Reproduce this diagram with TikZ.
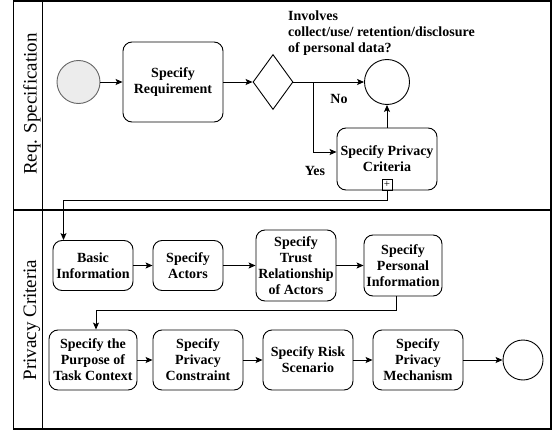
\documentclass[tikz,border=0pt]{standalone}
\usepackage{fontspec}
\setmainfont{Liberation Serif}
\usetikzlibrary{shapes.geometric,arrows.meta,calc}
\newcommand{\tskfont}{\fontsize{14}{16}\selectfont\bfseries}
\newcommand{\lnfont}{\fontsize{19}{22}\selectfont}
\begin{document}
\begin{tikzpicture}[x=1pt,y=-1pt,
  taskbox/.style={draw, rounded corners=9pt, align=center, font=\tskfont, inner sep=1pt, line width=0.9pt},
  flow/.style={-{Stealth[length=7pt,width=6pt,inset=1.5pt]}, line width=0.9pt},
  evt/.style={draw, circle, inner sep=0pt, line width=0.9pt},
  lanebox/.style={draw, line width=1.1pt},
  lanelabel/.style={rotate=90, font=\lnfont, inner sep=0pt}
]
\useasboundingbox (0,0) rectangle (555,431);
% pool frame
\draw[lanebox] (13.5,1) rectangle (551,429);
\draw[lanebox] (13.5,210) -- (551,210);
\draw[lanebox] (42.5,1) -- (42.5,429);
\node[lanelabel] (l1) at (32,104) {Req. Specification};
\node[lanelabel] (l2) at (32,320) {Privacy Criteria};

% top lane
\node[evt, fill=gray!15, draw=black!60, minimum size=43pt] (start) at (78.5,82) {};
\node[taskbox, minimum width=100pt, minimum height=80pt] (req) at (173,82) {Specify\\Requirement};
\node[draw, diamond, inner sep=0pt, minimum width=40pt, minimum height=55pt, line width=0.9pt] (gw) at (273,82) {};
\node[evt, minimum size=45pt] (endA) at (387,82) {};
\node[taskbox, minimum width=100pt, minimum height=62pt] (spc) at (387,159) {Specify Privacy\\Criteria};
\node[draw, inner sep=0pt, minimum width=10pt, minimum height=11pt, line width=0.8pt, font=\fontsize{11}{11}\selectfont] (plus) at (387,184.5) {+};
\node[anchor=north west, inner sep=0pt, align=left, font=\tskfont] (q) at (288,10.5) {Involves\\collect/use/ retention/disclosure\\of personal data?};
\node[font=\tskfont] (no) at (339,99) {No};
\node[font=\tskfont] (yes) at (315,171) {Yes};

\draw[flow] (start) -- (req);
\draw[flow] (req) -- (gw);
\draw[flow] (gw) -- (endA);
\coordinate (br) at (313,82);
\draw[flow] (br) |- ([yshift=7pt]spc.west);
\draw[flow] (spc) -- (endA);

% bottom lane
\node[taskbox, minimum width=80pt, minimum height=50pt] (basic) at (93,265.5) {Basic\\Information};
\node[taskbox, minimum width=70pt, minimum height=50pt] (actors) at (188,265.5) {Specify\\Actors};
\node[taskbox, minimum width=80pt, minimum height=71pt] (trust) at (296,265.5) {Specify\\Trust\\Relationship\\of Actors};
\node[taskbox, minimum width=78pt, minimum height=61pt] (pers) at (403,265.5) {Specify\\Personal\\Information};

\node[taskbox, minimum width=88pt, minimum height=60pt] (purp) at (93,360) {Specify the\\Purpose of\\Task Context};
\node[taskbox, minimum width=90pt, minimum height=60pt] (cons) at (198,360) {Specify\\Privacy\\Constraint};
\node[taskbox, minimum width=90pt, minimum height=60pt] (risk) at (308,360) {Specify Risk\\Scenario};
\node[taskbox, minimum width=90pt, minimum height=60pt] (mech) at (418,360) {Specify\\Privacy\\Mechanism};
\node[evt, minimum size=40pt] (endB) at (523,360) {};

\coordinate (c1) at (63.5,200);
\draw[flow] (plus.south) |- (c1) -- (c1 |- basic.north);

\draw[flow] (basic) -- (actors);
\draw[flow] (actors) -- (trust);
\draw[flow] (trust) -- (pers);

\coordinate (c2) at (396,310);
\coordinate (c3) at (96,310);
\draw[flow] (pers.south -| c2) -- (c2) -- (c3) -- (c3 |- purp.north);

\draw[flow] (purp) -- (cons);
\draw[flow] (cons) -- (risk);
\draw[flow] (risk) -- (mech);
\draw[flow] (mech) -- (endB);
\end{tikzpicture}
\end{document}
